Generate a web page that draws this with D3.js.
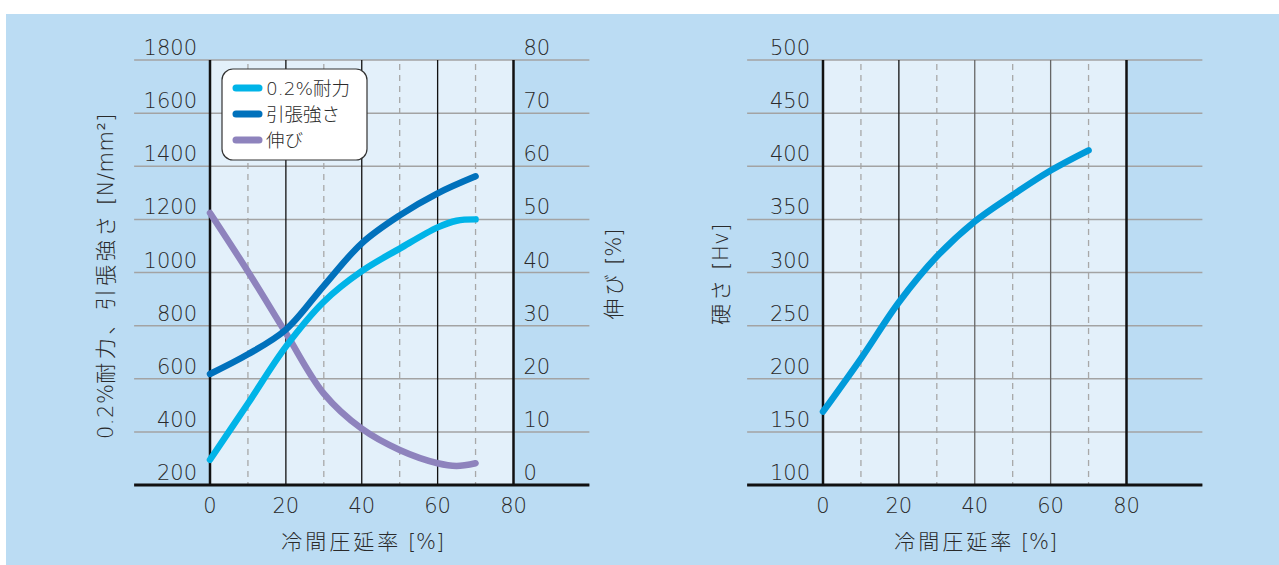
<!DOCTYPE html>
<html><head><meta charset="utf-8">
<script src="https://cdn.jsdelivr.net/npm/d3@7"></script>
<style>
html,body{margin:0;padding:0;background:#fff;}
svg{display:block;}
.num{font-family:"DejaVu Sans",sans-serif;font-weight:200;font-size:21px;fill:#2a2a2a;}
.jp{font-family:"DejaVu Sans","Noto Sans CJK JP",sans-serif;font-weight:200;fill:#2a2a2a;}
</style></head>
<body>
<script>
// ---- data ----
const xTicks = [0, 20, 40, 60, 80];
const xMinor = [10, 30, 50, 70];
const leftTicks = [200, 400, 600, 800, 1000, 1200, 1400, 1600, 1800];
const rightTicks = [0, 10, 20, 30, 40, 50, 60, 70, 80];
const hvTicks = [100, 150, 200, 250, 300, 350, 400, 450, 500];

const proofX = [0, 10, 20, 30, 40, 50, 60, 65, 70];
const proofStress = [295, 507, 721, 890, 1005, 1090, 1170, 1195, 1200];
const tensileX = [0, 10, 20, 30, 40, 50, 60, 70];
const tensileStrength = [618, 692, 785, 950, 1110, 1215, 1298, 1362];
const elongX = [0, 10, 20, 30, 40, 50, 60, 65, 70];
const elongation = [51.2, 40.2, 28.6, 17.2, 10.6, 6.6, 4.1, 3.6, 4.1];
const hardX = [0, 10, 20, 30, 40, 50, 60, 70];
const hardness = [169, 219, 272, 315, 348, 373, 396, 415];

const legendNames = ["0.2%耐力", "引張強さ", "伸び"];
const colors = {proof: "#00b4e8", tensile: "#0071bc", elong: "#8e83bd", hard: "#009ada"};

// ---- layout ----
const W = 1279, H = 565;
const svg = d3.select("body").append("svg").attr("width", W).attr("height", H);
svg.append("rect").attr("x", 6).attr("y", 14).attr("width", W - 6).attr("height", H - 14).attr("fill", "#bbdcf3");

const plotTop = 60, plotBottom = 485;

// text made of parts: [string, letterSpacing]
function richText(sel, parts) {
  parts.forEach(p => sel.append("tspan").style("letter-spacing", p[1] + "px").text(p[0]));
  return sel;
}

function panel(x0, yDomain, yTicksArr, opts) {
  const x = d3.scaleLinear().domain([0, 80]).range([x0, x0 + 303.5]);
  const y = d3.scaleLinear().domain(yDomain).range([plotBottom, plotTop]);
  const g = svg.append("g");
  g.append("rect").attr("x", x(0)).attr("y", plotTop).attr("width", x(80) - x(0)).attr("height", plotBottom - plotTop).attr("fill", "#e3f0fa");
  g.selectAll(".minor").data(xMinor).enter().append("line")
    .attr("x1", d => x(d)).attr("x2", d => x(d)).attr("y1", plotTop + 4).attr("y2", plotBottom)
    .attr("stroke", "#a8a8a8").attr("stroke-width", 1.3).attr("stroke-dasharray", "6,5");
  g.selectAll(".hg").data(yTicksArr).enter().append("line")
    .attr("x1", x(-20)).attr("x2", x(100)).attr("y1", d => y(d)).attr("y2", d => y(d))
    .attr("stroke", "#a3a3a3").attr("stroke-width", 1.5);
  g.selectAll(".mv").data(xTicks).enter().append("line")
    .attr("x1", d => x(d)).attr("x2", d => x(d)).attr("y1", plotTop).attr("y2", plotBottom)
    .attr("stroke", d => (d === 0 || d === 80) ? "#111" : opts.midColor(d))
    .attr("stroke-width", d => (d === 0 || d === 80) ? 2.5 : 1.3);
  g.append("line").attr("x1", x(-20)).attr("x2", x(100)).attr("y1", plotBottom).attr("y2", plotBottom)
    .attr("stroke", "#111").attr("stroke-width", 3);
  g.selectAll(".yl").data(yTicksArr).enter().append("text").attr("class", "num")
    .attr("x", x(0) - 13).attr("y", d => y(d) - 5).attr("text-anchor", "end").text(d => d);
  g.selectAll(".xl").data(xTicks).enter().append("text").attr("class", "num")
    .attr("x", d => x(d)).attr("y", 513).attr("text-anchor", "middle").text(d => d);
  richText(g.append("text").attr("class", "jp").attr("x", (x(0) + x(80)) / 2 + 1).attr("y", 549)
    .attr("text-anchor", "middle").style("font-size", "21px"),
    [["冷間圧延率", 3], [" [%]", 0]]);
  return {x, y, g};
}

const L = panel(210, [200, 1800], leftTicks, {midColor: () => "#111"});
const yR = d3.scaleLinear().domain([0, 80]).range([plotBottom, plotTop]);
L.g.selectAll(".yr").data(rightTicks).enter().append("text").attr("class", "num")
  .attr("x", L.x(80) + 10).attr("y", d => yR(d) - 5).attr("text-anchor", "start").text(d => d);

function drawLine(g, xs, vals, xs_, ys_, color) {
  const line = d3.line().x(d => xs_(d[0])).y(d => ys_(d[1])).curve(d3.curveCatmullRom.alpha(0.5));
  g.append("path").datum(xs.map((v, i) => [v, vals[i]])).attr("d", line)
    .attr("fill", "none").attr("stroke", color).attr("stroke-width", 6.5)
    .attr("stroke-linecap", "round").attr("stroke-linejoin", "round");
}
drawLine(L.g, elongX, elongation, L.x, yR, colors.elong);
drawLine(L.g, proofX, proofStress, L.x, L.y, colors.proof);
drawLine(L.g, tensileX, tensileStrength, L.x, L.y, colors.tensile);

richText(L.g.append("text").attr("class", "jp").attr("transform", "translate(113,276) rotate(-90)")
  .attr("text-anchor", "middle").style("font-size", "21px"),
  [["0.2%", 0.5], ["耐力、引張強さ", 3.5], [" [N/mm²]", 0.5]]);
richText(L.g.append("text").attr("class", "jp").attr("transform", "translate(621,274) rotate(-90)")
  .attr("text-anchor", "middle").style("font-size", "21px"),
  [["伸び", 3], [" [%]", 0]]);

const lg = L.g.append("g");
lg.append("rect").attr("x", 222).attr("y", 69).attr("width", 145).attr("height", 91).attr("rx", 11)
  .attr("fill", "#fff").attr("stroke", "#333").attr("stroke-width", 1.2);
const legColors = [colors.proof, colors.tensile, colors.elong];
legendNames.forEach((n, i) => {
  const yy = 88 + i * 26;
  lg.append("line").attr("x1", 236).attr("x2", 259).attr("y1", yy).attr("y2", yy)
    .attr("stroke", legColors[i]).attr("stroke-width", 7).attr("stroke-linecap", "round");
  lg.append("text").attr("class", "jp").attr("x", 266).attr("y", yy + 6.5)
    .style("font-size", "18.5px").text(n);
});

const R = panel(823, [100, 500], hvTicks, {midColor: d => d === 20 ? "#111" : "#666"});
drawLine(R.g, hardX, hardness, R.x, R.y, colors.hard);
richText(R.g.append("text").attr("class", "jp").attr("transform", "translate(728,274) rotate(-90)")
  .attr("text-anchor", "middle").style("font-size", "21px"),
  [["硬さ", 3], [" [Hv]", 0.5]]);
</script>
</body></html>
